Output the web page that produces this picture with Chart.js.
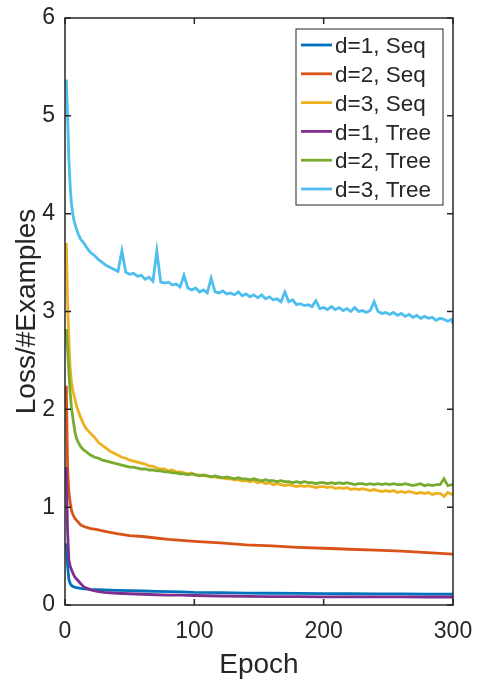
<!DOCTYPE html>
<html>
<head>
<meta charset="utf-8">
<script src="https://cdn.jsdelivr.net/npm/chart.js@4.4.1/dist/chart.umd.min.js"></script>
<style>
  html, body { margin: 0; padding: 0; background: #fff; }
  canvas { display: block; }
</style>
</head>
<body>
<canvas id="loss" width="478" height="679"></canvas>
<script>
// epochs for the noisy curves (d=3 Seq, d=2 Tree, d=3 Tree)
const epochsDense = [
  1, 2, 3, 4, 5, 6, 7, 8, 9, 10, 12, 14, 16, 18,
  20, 23, 26, 29, 32, 35, 38, 41, 44, 47,
  50, 53, 56, 59, 62, 65, 68, 71, 74, 77,
  80, 83, 86, 89, 92, 95, 98, 101, 104, 107,
  110, 113, 116, 119, 122, 125, 128, 131, 134, 137,
  140, 143, 146, 149, 152, 155, 158, 161, 164, 167,
  170, 173, 176, 179, 182, 185, 188, 191, 194, 197,
  200, 203, 206, 209, 212, 215, 218, 221, 224, 227,
  230, 233, 236, 239, 242, 245, 248, 251, 254, 257,
  260, 263, 266, 269, 272, 275, 278, 281, 284, 287,
  290, 293, 296, 299, 300
]
// epochs for the smooth curves (d=1 Seq, d=2 Seq, d=1 Tree)
const epochsSparse = [1, 2, 3, 4, 5, 6, 7, 8, 10, 12, 15, 20, 25, 30, 40, 50, 60, 70, 80, 90,
  100, 120, 140, 160, 180, 200, 220, 240, 260, 280, 300]

const lossD1Seq = [0.63, 0.40, 0.26, 0.22, 0.20, 0.19, 0.185, 0.18, 0.175, 0.17, 0.165, 0.16, 0.158, 0.155,
  0.15, 0.147, 0.143, 0.14, 0.137, 0.135, 0.13, 0.126, 0.122, 0.12, 0.118, 0.116, 0.115, 0.114, 0.113, 0.112, 0.111]
const lossD2Seq = [2.24, 1.41, 1.15, 1.05, 0.97, 0.93, 0.90, 0.88, 0.85, 0.82, 0.80, 0.78, 0.77, 0.755,
  0.73, 0.71, 0.70, 0.685, 0.67, 0.66, 0.65, 0.635, 0.615, 0.605, 0.59, 0.58, 0.57, 0.56, 0.55, 0.535, 0.52]
const lossD1Tree = [1.41, 0.75, 0.46, 0.40, 0.36, 0.33, 0.30, 0.28, 0.25, 0.22, 0.18, 0.155, 0.14, 0.13,
  0.12, 0.115, 0.11, 0.105, 0.10, 0.10, 0.097, 0.092, 0.088, 0.086, 0.085, 0.084, 0.084, 0.083, 0.083, 0.082, 0.082]

const lossD3Seq = [
  3.70, 3.10, 2.70, 2.42, 2.28, 2.20, 2.14, 2.09, 2.03, 1.99, 1.92, 1.86, 1.81, 1.78,
  1.75, 1.71, 1.66, 1.63, 1.60, 1.57, 1.55, 1.53, 1.51, 1.50,
  1.48, 1.47, 1.46, 1.45, 1.44, 1.42, 1.42, 1.40, 1.39, 1.39,
  1.37, 1.38, 1.36, 1.36, 1.35, 1.34, 1.35, 1.33, 1.33, 1.32,
  1.32, 1.31, 1.31, 1.30, 1.30, 1.29, 1.29, 1.28, 1.28, 1.27,
  1.27, 1.26, 1.27, 1.25, 1.26, 1.24, 1.25, 1.23, 1.24, 1.23,
  1.22, 1.23, 1.22, 1.21, 1.22, 1.21, 1.22, 1.21, 1.20, 1.21,
  1.21, 1.20, 1.21, 1.19, 1.20, 1.19, 1.20, 1.18, 1.19, 1.18,
  1.19, 1.18, 1.17, 1.18, 1.17, 1.16, 1.17, 1.16, 1.17, 1.15,
  1.16, 1.15, 1.16, 1.15, 1.14, 1.15, 1.14, 1.15, 1.13, 1.14,
  1.14, 1.11, 1.15, 1.13, 1.14
]
const lossD2Tree = [
  2.82, 2.62, 2.38, 2.17, 2.02, 1.92, 1.83, 1.75, 1.70, 1.67, 1.62, 1.59, 1.57, 1.55,
  1.53, 1.51, 1.50, 1.48, 1.47, 1.46, 1.45, 1.44, 1.43, 1.42,
  1.41, 1.41, 1.40, 1.39, 1.39, 1.38, 1.38, 1.37, 1.37, 1.36,
  1.36, 1.35, 1.35, 1.34, 1.34, 1.33, 1.34, 1.33, 1.32, 1.33,
  1.32, 1.31, 1.32, 1.31, 1.30, 1.31, 1.30, 1.29, 1.30, 1.29,
  1.29, 1.28, 1.29, 1.28, 1.27, 1.28, 1.27, 1.27, 1.26, 1.27,
  1.26, 1.26, 1.25, 1.26, 1.25, 1.26, 1.25, 1.25, 1.24, 1.25,
  1.25, 1.24, 1.25, 1.24, 1.25, 1.24, 1.25, 1.24, 1.23, 1.24,
  1.24, 1.23, 1.24, 1.23, 1.24, 1.23, 1.24, 1.23, 1.24, 1.23,
  1.23, 1.24, 1.23, 1.22, 1.23, 1.24, 1.22, 1.23, 1.22, 1.23,
  1.23, 1.29, 1.22, 1.23, 1.22
]
const lossD3Tree = [
  5.37, 5.00, 4.55, 4.28, 4.10, 4.00, 3.93, 3.88, 3.84, 3.80, 3.74, 3.71, 3.67, 3.63,
  3.60, 3.57, 3.53, 3.50, 3.47, 3.45, 3.43, 3.41, 3.62, 3.40,
  3.38, 3.39, 3.36, 3.37, 3.33, 3.35, 3.31, 3.62, 3.30, 3.29,
  3.30, 3.27, 3.28, 3.25, 3.37, 3.24, 3.22, 3.24, 3.20, 3.22,
  3.19, 3.34, 3.20, 3.19, 3.21, 3.18, 3.19, 3.17, 3.20, 3.16,
  3.18, 3.15, 3.17, 3.14, 3.17, 3.13, 3.15, 3.12, 3.13, 3.10,
  3.20, 3.10, 3.12, 3.07, 3.08, 3.06, 3.07, 3.05, 3.11, 3.03,
  3.04, 3.02, 3.05, 3.02, 3.04, 3.01, 3.03, 3.00, 3.04, 3.00,
  3.01, 2.99, 3.01, 3.10, 3.00, 2.98, 2.99, 2.97, 2.99, 2.96,
  2.98, 2.95, 2.97, 2.94, 2.96, 2.93, 2.95, 2.93, 2.94, 2.91,
  2.93, 2.92, 2.90, 2.92, 2.87
]

const seriesLabels = ['d=1, Seq', 'd=2, Seq', 'd=3, Seq', 'd=1, Tree', 'd=2, Tree', 'd=3, Tree']
const seriesColors = ['#0072BD', '#D95319', '#EDB120', '#7E2F8E', '#77AC30', '#4DBEEE']

const ink = '#262626'
const font = 'Liberation Sans, Arial, Helvetica, sans-serif'

function pairs(xs, ys){
  return xs.map((x, i) => ({x, y: ys[i]}))
}

const seriesData = [
  pairs(epochsSparse, lossD1Seq),
  pairs(epochsSparse, lossD2Seq),
  pairs(epochsDense, lossD3Seq),
  pairs(epochsSparse, lossD1Tree),
  pairs(epochsDense, lossD2Tree),
  pairs(epochsDense, lossD3Tree)
]

// box + inward ticks on all four sides, like a matlab axes
const matlabAxes = {
  id: 'matlabAxes',
  afterDatasetsDraw(chart){
    const {ctx, chartArea: a, scales} = chart
    const len = 6
    ctx.save()
    ctx.strokeStyle = ink
    ctx.lineWidth = 1.5
    ctx.beginPath()
    scales.x.ticks.forEach(t => {
      const px = scales.x.getPixelForValue(t.value)
      ctx.moveTo(px, a.bottom); ctx.lineTo(px, a.bottom - len)
      ctx.moveTo(px, a.top); ctx.lineTo(px, a.top + len)
    })
    scales.y.ticks.forEach(t => {
      const py = scales.y.getPixelForValue(t.value)
      ctx.moveTo(a.left, py); ctx.lineTo(a.left + len, py)
      ctx.moveTo(a.right, py); ctx.lineTo(a.right - len, py)
    })
    ctx.stroke()
    ctx.strokeRect(a.left, a.top, a.right - a.left, a.bottom - a.top)
    ctx.restore()
  }
}

// legend box in the upper right corner
const boxLegend = {
  id: 'boxLegend',
  afterDraw(chart){
    const {ctx} = chart
    const x0 = 296, y0 = 29, w = 147, h = 176
    const rowTop = 45, rowGap = 28.8
    ctx.save()
    ctx.fillStyle = '#fff'
    ctx.fillRect(x0, y0, w, h)
    ctx.strokeStyle = ink
    ctx.lineWidth = 1
    ctx.strokeRect(x0, y0, w, h)
    ctx.font = '22.5px ' + font
    ctx.textBaseline = 'middle'
    ctx.textAlign = 'left'
    chart.data.datasets.forEach((ds, i) => {
      const y = rowTop + i * rowGap
      ctx.strokeStyle = ds.borderColor
      ctx.lineWidth = 2.8
      ctx.beginPath()
      ctx.moveTo(301, y); ctx.lineTo(332, y)
      ctx.stroke()
      ctx.fillStyle = ink
      ctx.fillText(ds.label, 335, y + 2)
    })
    ctx.restore()
  }
}

const ctx = document.getElementById('loss')
const chart = new Chart(ctx, {
  type: 'line',
  data: {
    datasets: seriesLabels.map((label, i) => ({
      label,
      data: seriesData[i],
      borderColor: seriesColors[i],
      backgroundColor: seriesColors[i],
      borderWidth: 2.8,
      pointRadius: 0,
      tension: 0,
      fill: false,
      order: seriesLabels.length - i
    }))
  },
  options: {
    responsive: false,
    animation: false,
    devicePixelRatio: 1,
    layout: {padding: {left: 1, right: 25, top: 18, bottom: 0}},
    plugins: {
      legend: {display: false},
      tooltip: {enabled: false}
    },
    scales: {
      x: {
        type: 'linear',
        min: 0,
        max: 300,
        afterFit(scale){
          scale.height = 74
          scale.paddingLeft = 0
          scale.paddingRight = 0
        },
        ticks: {stepSize: 100, color: ink, font: {family: font, size: 23}, padding: 13, maxRotation: 0},
        grid: {display: false, drawTicks: false},
        border: {display: false},
        title: {display: true, text: 'Epoch', color: ink, font: {family: font, size: 28, lineHeight: 1}, padding: 0}
      },
      y: {
        type: 'linear',
        min: 0,
        max: 6,
        afterFit(scale){
          scale.width = 64
          scale.paddingTop = 0
          scale.paddingBottom = 0
        },
        ticks: {stepSize: 1, color: ink, font: {family: font, size: 23}, padding: 10},
        grid: {display: false, drawTicks: false},
        border: {display: false},
        title: {display: true, text: 'Loss/#Examples', color: ink, font: {family: font, size: 28, lineHeight: 1}, padding: {top: 12, bottom: 0}}
      }
    }
  },
  plugins: [matlabAxes, boxLegend]
})
</script>
</body>
</html>
